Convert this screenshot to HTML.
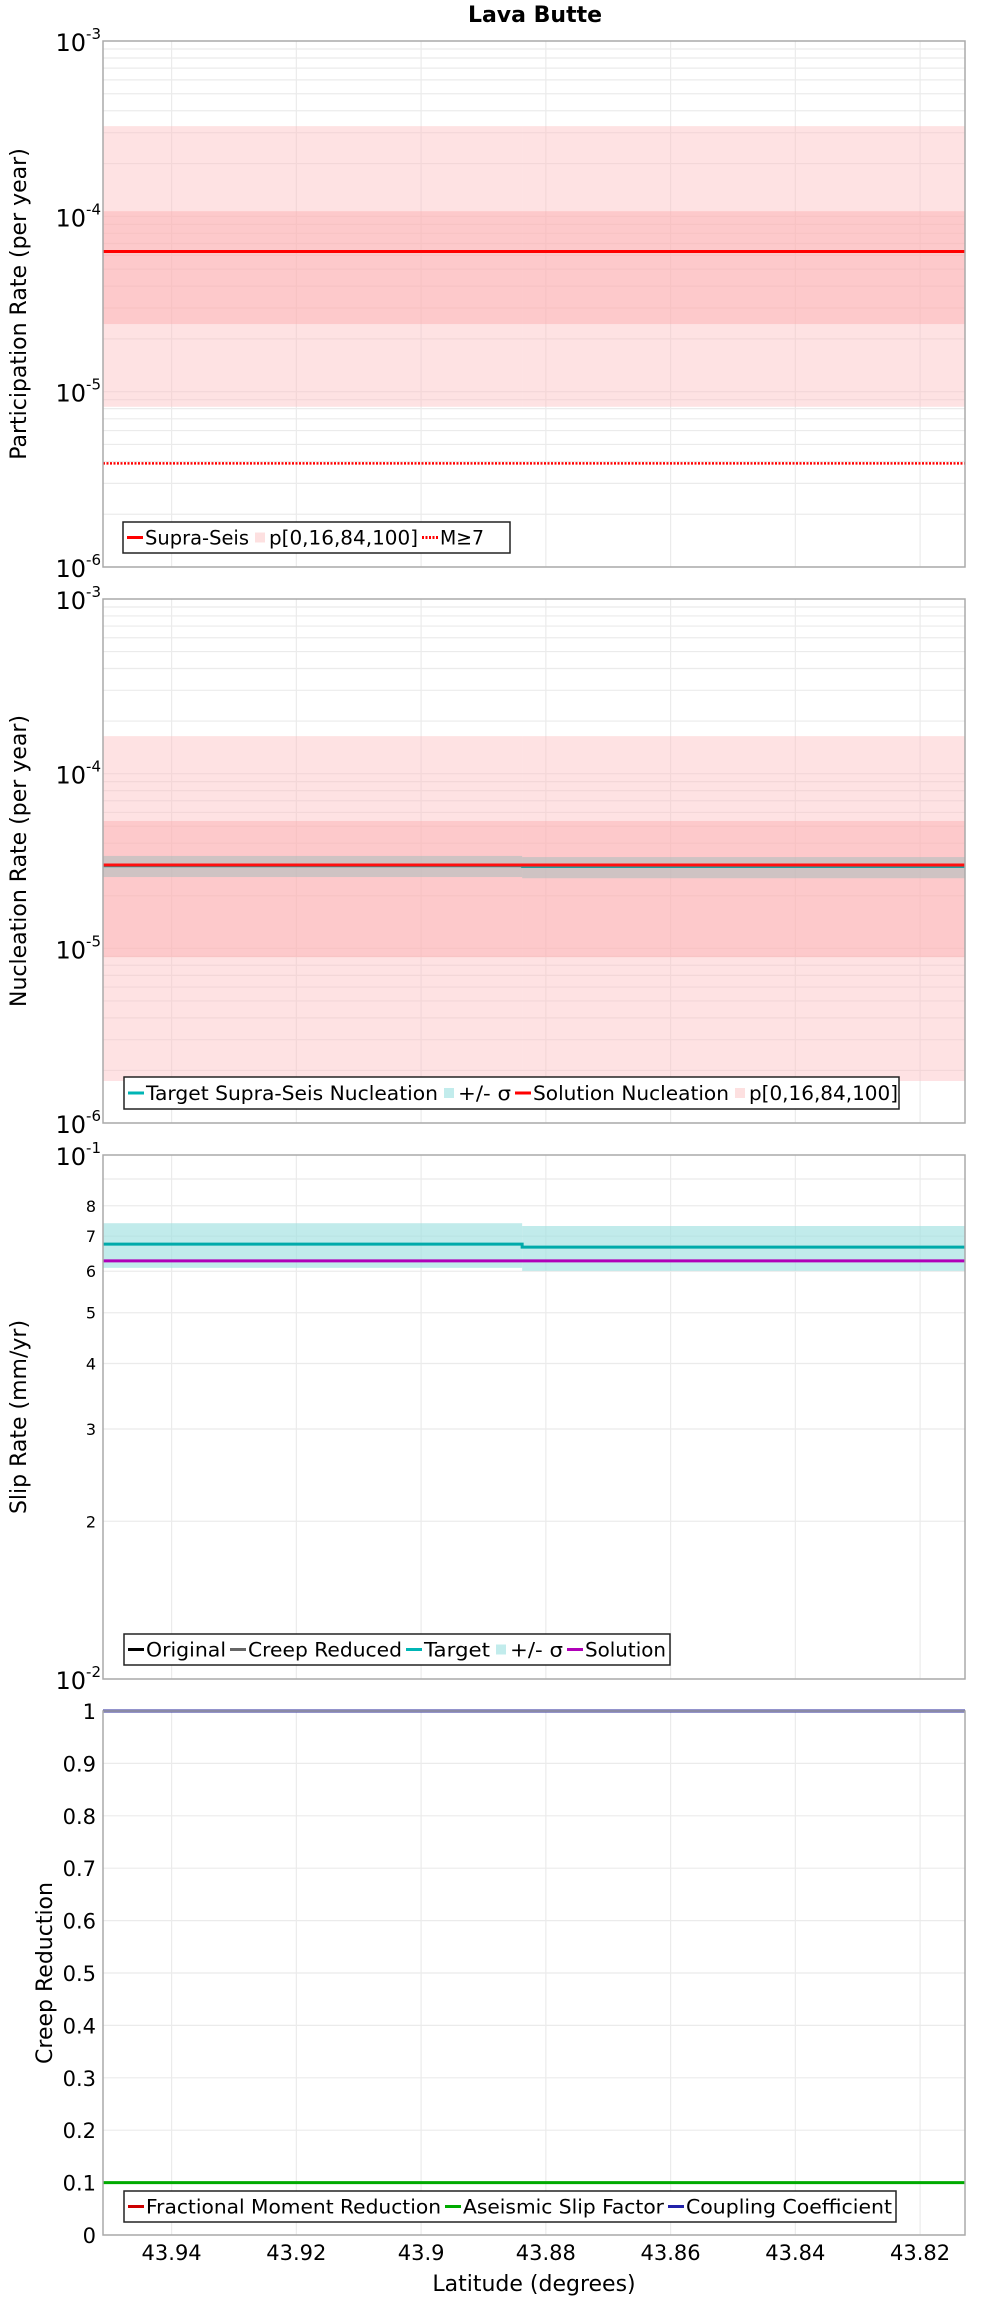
<!DOCTYPE html>
<html><head><meta charset="utf-8"><title>Lava Butte</title>
<style>
html,body{margin:0;padding:0;background:#fff;}
svg{display:block;font-family:"DejaVu Sans","Liberation Sans",sans-serif;}
</style></head>
<body>
<svg id="chart" width="1000" height="2300" viewBox="0 0 1000 2300" xmlns="http://www.w3.org/2000/svg">
<text x="535" y="22" text-anchor="middle" font-size="22" font-weight="bold">Lava Butte</text>
<g id="g1"></g>
<g id="g2"></g>
<g id="g3"></g>
<g id="g4"></g>
<text x="534" y="2291" text-anchor="middle" font-size="22">Latitude (degrees)</text>
</svg>
<script>
const latEdges=[43.951,43.8838,43.8128];
const xTicks=[43.94,43.92,43.9,43.88,43.86,43.84,43.82];
const xTickLabels=["43.94","43.92","43.9","43.88","43.86","43.84","43.82"];
// Panel 1
const p1Supra=[6.3e-5,6.3e-5];
const p1P0=[8.2e-6,8.2e-6];
const p1P16=[2.43e-5,2.43e-5];
const p1P84=[1.07e-4,1.07e-4];
const p1P100=[3.27e-4,3.27e-4];
const p1M7=[3.9e-6,3.9e-6];
// Panel 2
const p2Target=[2.95e-5,2.92e-5];
const p2SigLo=[2.56e-5,2.52e-5];
const p2SigHi=[3.38e-5,3.33e-5];
const p2Sol=[3.0e-5,3.0e-5];
const p2P0=[1.74e-6,1.74e-6];
const p2P16=[8.9e-6,8.9e-6];
const p2P84=[5.36e-5,5.36e-5];
const p2P100=[1.64e-4,1.64e-4];
// Panel 3
const p3Target=[0.0676,0.0667];
const p3Lo=[0.0609,0.0601];
const p3Hi=[0.0741,0.0732];
const p3Sol=[0.0628,0.0628];
const p3MinorLabels=["2","3","4","5","6","7","8"];
const p3MinorVals=[0.02,0.03,0.04,0.05,0.06,0.07,0.08];
// Panel 4
const p4Coupling=[1,1];
const p4Aseismic=[0.1,0.1];
const p4Ticks=[0,0.1,0.2,0.3,0.4,0.5,0.6,0.7,0.8,0.9,1];
const p4TickLabels=["0","0.1","0.2","0.3","0.4","0.5","0.6","0.7","0.8","0.9","1"];

const NS="http://www.w3.org/2000/svg";
const L=103,R=965;
function X(v){return L+(latEdges[0]-v)/(latEdges[0]-latEdges[2])*(R-L);}
function mk(tag,attrs,parent){const e=document.createElementNS(NS,tag);for(const k in attrs)e.setAttribute(k,attrs[k]);parent.appendChild(e);return e;}
function logY(top,bot,lo,hi){return v=>bot-(Math.log10(v)-Math.log10(lo))/(Math.log10(hi)-Math.log10(lo))*(bot-top);}
function linY(top,bot,lo,hi){return v=>bot-(v-lo)/(hi-lo)*(bot-top);}

function grid(g,top,bot,hLines){
  mk('rect',{x:L,y:top,width:R-L,height:bot-top,fill:'#fff'},g);
  hLines.forEach(y=>{const l=mk('line',{x1:L,x2:R,y1:y,y2:y,stroke:'#ebebeb','stroke-width':1.2},g);
    
    });
  xTicks.forEach(t=>{const l=mk('line',{x1:X(t),x2:X(t),y1:top,y2:bot,stroke:'#ebebeb','stroke-width':1.2},g);
    
    });
}
function frame(g,top,bot){
  const f=mk('rect',{x:L,y:top,width:R-L,height:bot-top,fill:'none',stroke:'#aaa','stroke-width':1.5},g);
  
  
}
function band(g,Y,lo,hi,fill,name){
  for(let i=0;i<lo.length;i++){
    const y1=Y(hi[i]),y2=Y(lo[i]);
    const r=mk('rect',{x:X(latEdges[i]),y:y1,width:X(latEdges[i+1])-X(latEdges[i]),height:y2-y1,fill:fill},g);
    
    
  }
}
function step(g,Y,vals,color,w,name,dash){
  let d='';
  for(let i=0;i<vals.length;i++){
    d+=(i===0?'M':'L')+X(latEdges[i])+','+Y(vals[i])+' L'+X(latEdges[i+1])+','+Y(vals[i]);
  }
  const p=mk('path',{d:d,fill:'none',stroke:color,'stroke-width':w},g);
  if(dash)p.setAttribute('stroke-dasharray',dash);
  
  
}
function logGrid(top,bot,lo,hi,Y){
  const ys=[];
  for(let e=Math.log10(lo);e<Math.log10(hi);e++){for(let m=1;m<10;m++)ys.push(Y(m*Math.pow(10,e)));}
  return ys;
}
function powLabel(g,y,exp){
  const t=mk('text',{x:101,y:y+10,'text-anchor':'end','font-size':24},g);
  t.textContent='10';
  const s=mk('tspan',{dy:-12,'font-size':15},t);
  s.textContent=String(exp);
  
  
}
function yTitle(g,x,top,bot,txt){
  const c=(top+bot)/2;
  const t=mk('text',{x:x,y:c,'text-anchor':'middle','font-size':22,transform:'rotate(-90 '+x+' '+c+')'},g);
  t.textContent=txt;
  
  
}
function legend(g,x,y,w,h,items){
  const box=mk('g',{},g);
  
  
  mk('rect',{x:x,y:y,width:w,height:h,fill:'#fff',stroke:'#222','stroke-width':1.5},box);
  let cx=x+4;const cy=y+h/2;
  items.forEach(it=>{
    const ent=mk('g',{},box);
    
    
    if(it.type==='sq'){mk('rect',{x:cx+2,y:cy-5,width:10,height:10,fill:it.color},ent);cx+=16;}
    else{const l=mk('line',{x1:cx,x2:cx+16,y1:cy,y2:cy,stroke:it.color,'stroke-width':3},ent);if(it.dash)l.setAttribute('stroke-dasharray',it.dash);cx+=18;}
    const t=mk('text',{x:cx,y:cy+7,'font-size':19.5,textLength:it.tw,lengthAdjust:'spacingAndGlyphs'},ent);
    t.textContent=it.label;cx+=it.tw+4;
  });
}

// Panel 1
(function(){
  const g=document.getElementById('g1'),top=41,bot=567;
  const Y=logY(top,bot,1e-6,1e-3);
  grid(g,top,bot,logGrid(top,bot,1e-6,1e-3,Y));
  band(g,Y,p1P0,p1P100,'rgba(252,190,192,0.45)','p0-p100-band');
  band(g,Y,p1P16,p1P84,'rgba(252,170,172,0.45)','p16-p84-band');
  step(g,Y,p1Supra,'#ff0000',3,'supra-seis-line');
  step(g,Y,p1M7,'#ff0000',2.5,'m7-line','2,1.5');
  frame(g,top,bot);
  [-6,-5,-4,-3].forEach(e=>powLabel(g,Y(Math.pow(10,e)),e));
  yTitle(g,26,top,bot,'Participation Rate (per year)');
  legend(g,123,522,387,31,[{color:'#ff0000',label:'Supra-Seis',tw:104},{type:'sq',color:'#fde0e0',label:'p[0,16,84,100]',tw:149},{color:'#ff0000',dash:'2,1.5',label:'M≥7',tw:44}]);
})();
// Panel 2
(function(){
  const g=document.getElementById('g2'),top=599,bot=1123;
  const Y=logY(top,bot,1e-6,1e-3);
  grid(g,top,bot,logGrid(top,bot,1e-6,1e-3,Y));
  band(g,Y,p2P0,p2P100,'rgba(252,190,192,0.45)','p0-p100-band');
  band(g,Y,p2P16,p2P84,'rgba(252,170,172,0.45)','p16-p84-band');
  band(g,Y,p2SigLo,p2SigHi,'rgba(170,190,190,0.55)','sigma-band');
  step(g,Y,p2Target,'#20a0a0',2,'target-nucleation-line');
  step(g,Y,p2Sol,'#ff1010',3,'solution-nucleation-line');
  frame(g,top,bot);
  [-6,-5,-4,-3].forEach(e=>powLabel(g,Y(Math.pow(10,e)),e));
  yTitle(g,26,top,bot,'Nucleation Rate (per year)');
  legend(g,124,1077,775,32,[{color:'#00b5b5',label:'Target Supra-Seis Nucleation',tw:292},{type:'sq',color:'#c2ecec',label:'+/- σ',tw:53},{color:'#ff0000',label:'Solution Nucleation',tw:196},{type:'sq',color:'#fde0e0',label:'p[0,16,84,100]',tw:149}]);
})();
// Panel 3
(function(){
  const g=document.getElementById('g3'),top=1155,bot=1679;
  const Y=logY(top,bot,0.01,0.1);
  grid(g,top,bot,logGrid(top,bot,0.01,0.1,Y));
  band(g,Y,p3Lo,p3Hi,'rgba(160,225,225,0.65)','sigma-band');
  step(g,Y,p3Target,'#00aaaa',3,'target-line');
  step(g,Y,p3Sol,'#b000b8',3,'solution-line');
  frame(g,top,bot);
  powLabel(g,Y(0.1),-1);powLabel(g,Y(0.01),-2);
  p3MinorVals.forEach((v,i)=>{const t=mk('text',{x:96,y:Y(v)+6,'text-anchor':'end','font-size':16},g);t.textContent=p3MinorLabels[i];
    
    });
  yTitle(g,26,top,bot,'Slip Rate (mm/yr)');
  legend(g,124,1634,546,31,[{color:'#000',label:'Original',tw:80},{color:'#666',label:'Creep Reduced',tw:154},{color:'#00b5b5',label:'Target',tw:66},{type:'sq',color:'#c2ecec',label:'+/- σ',tw:53},{color:'#b000b8',label:'Solution',tw:81}]);
})();
// Panel 4
(function(){
  const g=document.getElementById('g4'),top=1711,bot=2235;
  const Y=linY(top,bot,0,1);
  grid(g,top,bot,p4Ticks.map(Y));
  step(g,Y,p4Aseismic,'#00aa00',3,'aseismic-slip-factor-line');
  step(g,Y,p4Coupling,'#2a2a9a',3,'coupling-coefficient-line');
  frame(g,top,bot);
  p4Ticks.forEach((v,i)=>{const t=mk('text',{x:96,y:Y(v)+8,'text-anchor':'end','font-size':21},g);t.textContent=p4TickLabels[i];
    
    });
  yTitle(g,52,top,bot,'Creep Reduction');
  legend(g,124,2191,772,31,[{color:'#cc0000',label:'Fractional Moment Reduction',tw:295},{color:'#00aa00',label:'Aseismic Slip Factor',tw:201},{color:'#2222aa',label:'Coupling Coefficient',tw:206}]);
  xTicks.forEach((v,i)=>{const t=mk('text',{x:X(v),y:2260,'text-anchor':'middle','font-size':21},g);t.textContent=xTickLabels[i];
    
    });
})();
</script>
</body></html>
